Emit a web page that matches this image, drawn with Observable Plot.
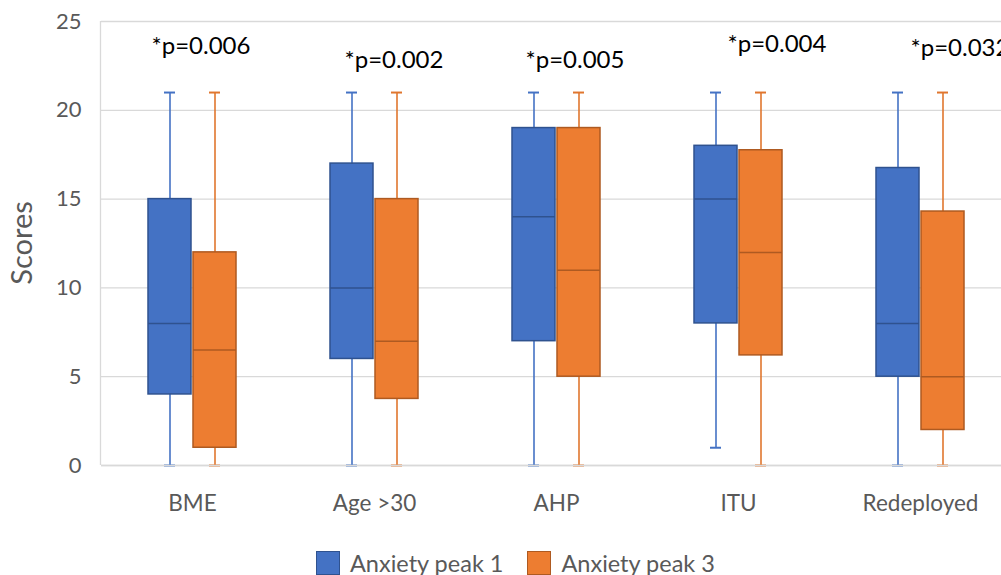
<!DOCTYPE html>
<html>
<head>
<meta charset="utf-8">
<script src="https://cdn.jsdelivr.net/npm/d3@7"></script>
<script src="https://cdn.jsdelivr.net/npm/@observablehq/plot@0.6"></script>
<style>
  html, body { margin: 0; padding: 0; overflow: hidden; background: #fff; }
  #chart svg { display: block; max-width: none !important; }
  .legend { display: flex; align-items: center; padding-left: 316px; margin-top: 20px;
            font-family: Lato, sans-serif; font-size: 23.5px; color: #595959; line-height: 26px; }
  .legend .sw { width: 22px; height: 22px; border: 1.5px solid; box-sizing: content-box; }
  .legend .lab { margin-left: 10px; }
  .legend .item2 { margin-left: 24px; }
</style>
</head>
<body>
<div id="chart"></div>
<script>
const categories = ["BME", "Age >30", "AHP", "ITU", "Redeployed"];
const series = ["Anxiety peak 1", "Anxiety peak 3"];

const peak1Min    = [0, 0, 0, 1, 0];
const peak1Q1     = [4, 6, 7, 8, 5];
const peak1Median = [8, 10, 14, 15, 8];
const peak1Q3     = [15, 17, 19, 18, 16.75];
const peak1Max    = [21, 21, 21, 21, 21];

const peak3Min    = [0, 0, 0, 0, 0];
const peak3Q1     = [1, 3.75, 5, 6.2, 2];
const peak3Median = [6.5, 7, 11, 12, 5];
const peak3Q3     = [12, 15, 19, 17.75, 14.3];
const peak3Max    = [21, 21, 21, 21, 21];

const pLabels = ["*p=0.006", "*p=0.002", "*p=0.005", "*p=0.004", "*p=0.032"];
const pLabelY = [23.6, 22.8, 22.8, 23.7, 23.5];
const yTicks = [0, 5, 10, 15, 20, 25];

// layout / style
const pLabelDx = [-41, -30, -31, -11, -10];
const fills = ["#4472C4", "#ED7D31"];
const edges = ["#2F528F", "#AE5A21"];
const whisk = ["#4472C4", "#E0762E"];

const stats = [
  [peak1Min, peak1Q1, peak1Median, peak1Q3, peak1Max],
  [peak3Min, peak3Q1, peak3Median, peak3Q3, peak3Max]
];
const rows = categories.flatMap((c, i) => series.map((s, j) => ({
  category: c, series: s,
  min: stats[j][0][i], q1: stats[j][1][i], median: stats[j][2][i], q3: stats[j][3][i], max: stats[j][4][i]
})));

const seriesMarks = series.flatMap((s, j) => {
  const d = rows.filter(r => r.series === s);
  return [
    Plot.ruleX(d, {fx: "category", x: "series", y1: "min", y2: "max", stroke: whisk[j], strokeWidth: 1.6}),
    Plot.tickY(d, {fx: "category", x: "series", y: "max", stroke: whisk[j], strokeWidth: 2, insetLeft: 16, insetRight: 16}),
    Plot.tickY(d, {fx: "category", x: "series", y: "min", stroke: whisk[j], strokeWidth: 2, insetLeft: 16, insetRight: 16}),
    Plot.barY(d, {fx: "category", x: "series", y1: "q1", y2: "q3", fill: fills[j], stroke: edges[j], strokeWidth: 1.5}),
    Plot.tickY(d, {fx: "category", x: "series", y: "median", stroke: edges[j], strokeWidth: 1.5})
  ];
});

const labelMarks = pLabels.map((t, i) => Plot.text([i], {
  fx: k => categories[k], y: k => pLabelY[k], text: k => pLabels[k],
  frameAnchor: "middle", textAnchor: "start", dx: pLabelDx[i],
  fill: "#000", fontSize: 24
}));

const plot = Plot.plot({
  width: 1012,
  height: 530,
  marginLeft: 100,
  marginRight: 0,
  marginTop: 21,
  marginBottom: 65,
  style: {fontFamily: "Lato, sans-serif", fontSize: "22px", color: "#595959", background: "#fff", overflow: "visible"},
  fx: {domain: categories, padding: 0},
  x: {domain: series, paddingInner: 0.043, paddingOuter: 1.0, axis: null},
  y: {domain: [0, 25]},
  marks: [
    Plot.gridY(yTicks, {stroke: "#D9D9D9", strokeOpacity: 1, strokeWidth: 1.3}),
    Plot.axisY(yTicks, {tickSize: 0, tickPadding: 20, label: null, fill: "#595959"}),
    Plot.axisFx({anchor: "bottom", tickSize: 0, tickPadding: 30, label: null, fill: "#595959", fontSize: 22.5}),
    ...seriesMarks,
    Plot.ruleY([0], {stroke: "#D9D9D9", strokeWidth: 1.3}),
    ...labelMarks
  ]
});

// left axis line and y-axis title, placed from the plot's own scales
const fxScale = plot.scale("fx");
const yScale = plot.scale("y");
const left = fxScale.range[0];
const svg = d3.select(plot);
svg.append("line")
  .attr("x1", left + 0.5).attr("x2", left + 0.5)
  .attr("y1", yScale.apply(25)).attr("y2", yScale.apply(0))
  .attr("stroke", "#D9D9D9").attr("stroke-width", 1.3);
svg.append("text")
  .attr("transform", `translate(32,${yScale.apply(12.5)}) rotate(-90)`)
  .attr("text-anchor", "middle")
  .attr("fill", "#595959")
  .attr("font-size", 29)
  .text("Scores");

document.getElementById("chart").appendChild(plot);

const legend = document.createElement("div");
legend.className = "legend";
legend.innerHTML = series.map((s, j) =>
  `<div class="sw ${j ? 'item2' : ''}" style="background:${fills[j]};border-color:${edges[j]}"></div><span class="lab">${s}</span>`
).join("");
document.body.appendChild(legend);
</script>
</body>
</html>
